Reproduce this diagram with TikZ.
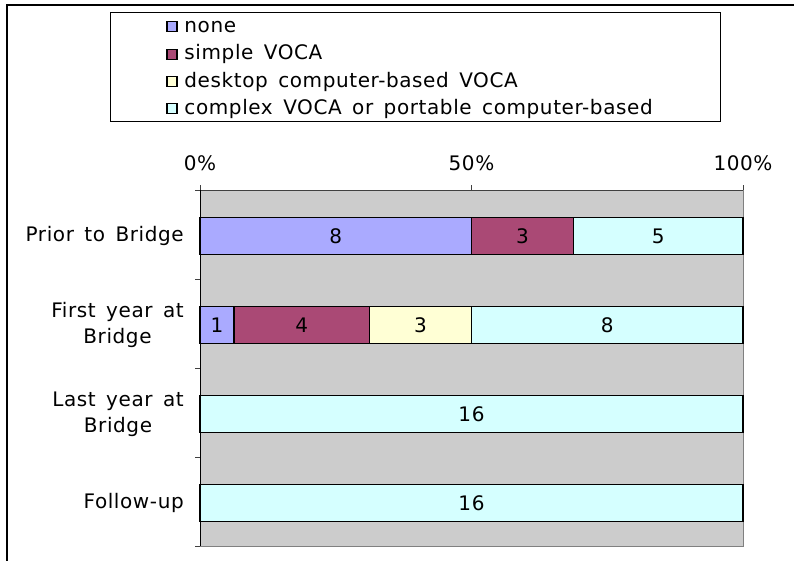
\documentclass[tikz,border=0pt]{standalone}
\usepackage{fontspec}
\setmainfont{DejaVu Sans}[LetterSpace=3, WordSpace=1.5]
\usetikzlibrary{positioning}
\definecolor{colnone}{RGB}{170,170,255}
\definecolor{colsimple}{RGB}{170,73,117}
\definecolor{coldesk}{RGB}{255,255,213}
\definecolor{colcomplex}{RGB}{213,255,255}
\definecolor{plotgray}{RGB}{204,204,204}

\begin{document}
\begin{tikzpicture}[x=0.75pt, y=-0.75pt, font=\fontsize{15}{19.5}\selectfont,
	barseg/.style={draw=black, line width=1.2pt},
	legsq/.style={draw=black, line width=0.8pt, minimum size=7.5pt, inner sep=0pt},
	catlabel/.style={anchor=east, align=center, inner sep=0pt}]
	\useasboundingbox (0,0) rectangle (794,561);
	% outer frame
	\draw[line width=1.5pt] (7,561) -- (7,5) -- (794,5);
	% legend
	\draw[line width=0.75pt] (110,12) rectangle (720,121);
	\foreach \col/\txt [count=\i] in {colnone/none, colsimple/simple VOCA, coldesk/desktop computer-based VOCA, colcomplex/complex VOCA or portable computer-based}
	{
		\node[legsq, fill=\col] (sq\i) at (172, {26.7+27.4*(\i-1)}) {};
		\node[right=5pt of sq\i, inner sep=0pt] (leg\i) {\txt};
	}
	% plot area and axes
	\draw[fill=plotgray, draw=gray] (200,190) rectangle (743,546);
	\draw[darkgray] (195,190) -- (743,190);
	\draw[black] (200,185) -- (200,546);
	\foreach \p/\xp in {0/200, 50/471.5, 100/743}
	{
		\draw[darkgray] (\xp,185) -- (\xp,190);
		\node (tick\p) at (\xp,163) {\p\%};
	}
	\foreach \yt in {279,368,457,546}
		\draw[darkgray] (195,\yt) -- (200,\yt);
	% bars: row centre / from / to / colour / count
	\foreach \yc/\a/\b/\col/\n [count=\i] in {236/0/8/colnone/8, 236/8/11/colsimple/3, 236/11/16/colcomplex/5,
		325/0/1/colnone/1, 325/1/5/colsimple/4, 325/5/8/coldesk/3, 325/8/16/colcomplex/8,
		414/0/16/colcomplex/16, 503/0/16/colcomplex/16}
	{
		\draw[barseg, fill=\col] ({200+33.9375*\a},{\yc-18.5}) rectangle ({200+33.9375*\b},{\yc+18.5});
		\node (seg\i) at ({200+33.9375*(\a+\b)/2},\yc) {\n};
	}
	% category labels
	\node[catlabel] (prior) at (184,236) {Prior to Bridge};
	\node[catlabel] (first) at (184,325) {First year at\\Bridge};
	\node[catlabel] (last) at (184,414) {Last year at\\Bridge};
	\node[catlabel] (follow) at (184,503) {Follow-up};
\end{tikzpicture}
\end{document}
